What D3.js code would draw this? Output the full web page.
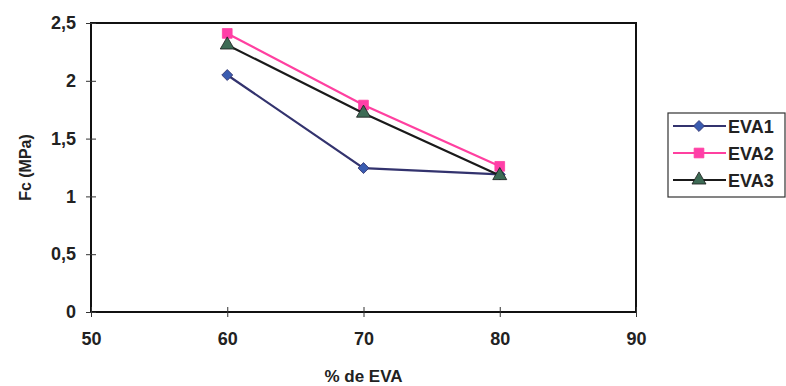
<!DOCTYPE html>
<html>
<head>
<meta charset="utf-8">
<script src="https://cdn.jsdelivr.net/npm/d3@7"></script>
<style>
  html, body { margin: 0; padding: 0; background: #fff; }
  svg { display: block; }
  text { font-family: "Liberation Sans", Arial, sans-serif; font-weight: bold; fill: #222; }
</style>
</head>
<body>
<svg id="chart" width="786" height="386"></svg>
<script>
// Compressive strength (Fc) against EVA content
const evaPercent = [60, 70, 80];
const eva1 = [2.05, 1.245, 1.19];
const eva2 = [2.41, 1.79, 1.26];
const eva3 = [2.31, 1.72, 1.18];
const seriesNames = ["EVA1", "EVA2", "EVA3"];
const xTicks = [50, 60, 70, 80, 90];
const yTicks = [0, 0.5, 1, 1.5, 2, 2.5];

const series = [
  { name: seriesNames[0], values: eva1, line: "#33336e", fill: "#3a5cb0", symbol: d3.symbolSquare, rotate: 45, size: 60 },
  { name: seriesNames[1], values: eva2, line: "#ff40a0", fill: "#ff3fa8", symbol: d3.symbolSquare, rotate: 0, size: 95 },
  { name: seriesNames[2], values: eva3, line: "#1a1a1a", fill: "#3d6b55", symbol: d3.symbolTriangle, rotate: 0, size: 85 }
];

const svg = d3.select("#chart");
const x = d3.scaleLinear().domain([50, 90]).range([91, 636]);
const y = d3.scaleLinear().domain([0, 2.5]).range([312, 23]);

// plot frame
svg.append("rect")
  .attr("x", x(50)).attr("y", y(2.5))
  .attr("width", x(90) - x(50)).attr("height", y(0) - y(2.5))
  .attr("fill", "none").attr("stroke", "#111").attr("stroke-width", 2);

// y axis with cross ticks
const yAxis = svg.append("g").attr("transform", `translate(${x(50)},0)`)
  .call(d3.axisLeft(y).tickValues(yTicks).tickSize(5).tickPadding(10)
    .tickFormat(d => d3.format("")(d).replace(".", ",")));
yAxis.select(".domain").remove();
yAxis.selectAll(".tick line").attr("x2", 5).attr("x1", -5).attr("stroke", "#333");
yAxis.selectAll("text").style("font-size", "18px");

// x axis with cross ticks
const xAxis = svg.append("g").attr("transform", `translate(0,${y(0)})`)
  .call(d3.axisBottom(x).tickValues(xTicks).tickSize(5).tickPadding(15));
xAxis.select(".domain").remove();
xAxis.selectAll(".tick line").attr("y1", -5).attr("y2", 5).attr("stroke", "#333");
xAxis.selectAll("text").style("font-size", "18px");

// axis titles
svg.append("text")
  .attr("x", (x(50) + x(90)) / 2).attr("y", 382)
  .attr("text-anchor", "middle").style("font-size", "17px")
  .text("% de EVA");
svg.append("text")
  .attr("transform", `translate(31,${(y(0) + y(2.5)) / 2}) rotate(-90)`)
  .attr("text-anchor", "middle").style("font-size", "16px")
  .text("Fc (MPa)");

// series lines and markers
const line = d3.line().x((d, i) => x(evaPercent[i])).y(d => y(d));
series.forEach(s => {
  svg.append("path").datum(s.values)
    .attr("d", line).attr("fill", "none")
    .attr("stroke", s.line).attr("stroke-width", 2.2);
  svg.selectAll(null).data(s.values).enter().append("path")
    .attr("transform", (d, i) => `translate(${x(evaPercent[i])},${y(d)}) rotate(${s.rotate})`)
    .attr("d", d3.symbol().type(s.symbol).size(s.size))
    .attr("fill", s.fill).attr("stroke", s.line).attr("stroke-width", 0.8);
});

// legend
const legend = svg.append("g");
legend.append("rect")
  .attr("x", 668).attr("y", 113).attr("width", 117).attr("height", 84)
  .attr("fill", "#fff").attr("stroke", "#333").attr("stroke-width", 1.2);
series.forEach((s, i) => {
  const ly = 126 + i * 27;
  legend.append("line")
    .attr("x1", 673).attr("x2", 726).attr("y1", ly).attr("y2", ly)
    .attr("stroke", s.line).attr("stroke-width", 2.2);
  legend.append("path")
    .attr("transform", `translate(699,${ly}) rotate(${s.rotate})`)
    .attr("d", d3.symbol().type(s.symbol).size(s.size))
    .attr("fill", s.fill).attr("stroke", s.line).attr("stroke-width", 0.8);
  legend.append("text")
    .attr("x", 728).attr("y", ly + 6.5)
    .style("font-size", "18px")
    .text(s.name);
});
</script>
</body>
</html>
